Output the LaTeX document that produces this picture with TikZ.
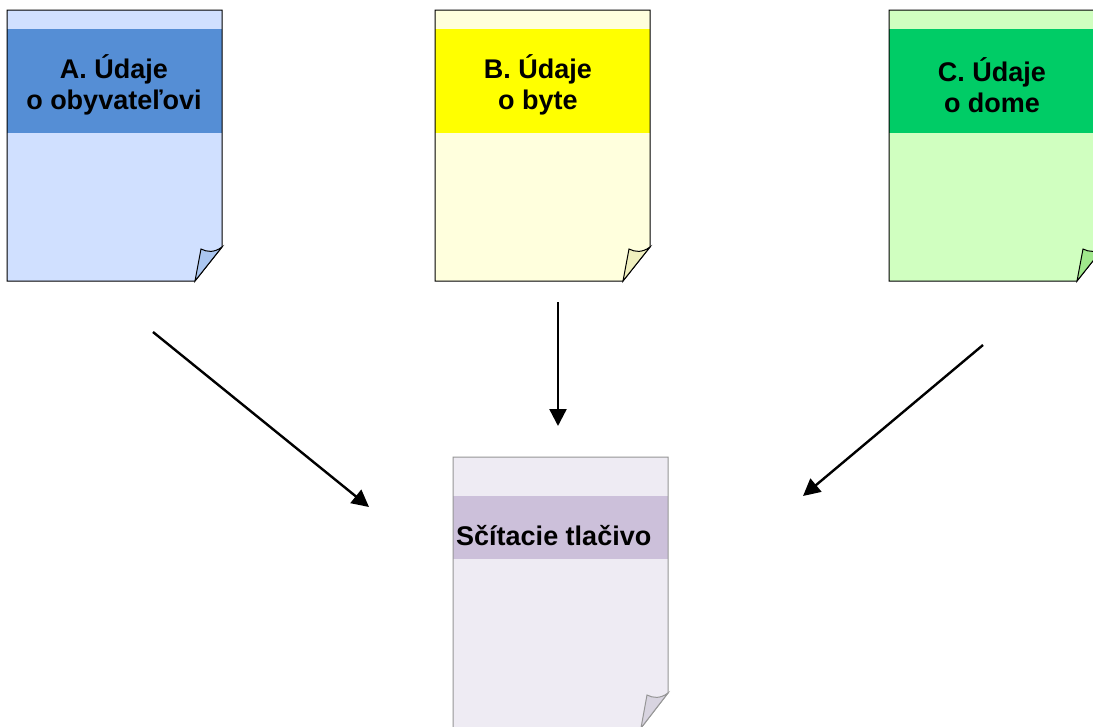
\documentclass[tikz,border=0pt]{standalone}
\usepackage{fontspec}
\setmainfont{Liberation Sans}
\usetikzlibrary{arrows.meta}
\definecolor{pageA}{RGB}{208,224,255}
\definecolor{bandA}{RGB}{85,142,213}
\definecolor{flapA}{RGB}{170,198,240}
\definecolor{pageB}{RGB}{255,255,221}
\definecolor{bandB}{RGB}{255,255,0}
\definecolor{flapB}{RGB}{240,240,190}
\definecolor{pageC}{RGB}{208,255,192}
\definecolor{bandC}{RGB}{0,204,102}
\definecolor{flapC}{RGB}{160,232,140}
\definecolor{pageD}{RGB}{238,235,243}
\definecolor{bandD}{RGB}{204,192,218}
\definecolor{flapD}{RGB}{216,212,224}
\definecolor{lineD}{RGB}{150,150,150}
\tikzset{
  sheet/.style={line width=1pt},
  flow/.style={line width=2.4pt,-{Triangle[length=17pt,width=17pt]}},
  title/.style={font=\bfseries\fontsize{27}{31}\selectfont,align=center,inner sep=0pt},
}
\begin{document}
\begin{tikzpicture}[x=1pt,y=-1pt]
\clip (0,0) rectangle (1093,726);
\fill[white] (0,0) rectangle (1093,726);
% ---- sheet A
\node[inner sep=0,minimum width=215pt,minimum height=271pt,anchor=north west] (sheetA) at (7,10) {};
\path[sheet,fill=pageA] (7,10) -- (222,10) -- (222,247) -- (195,281) -- (7,281) -- cycle;
\fill[bandA] (7,29) rectangle (222,133);
\draw[sheet] (7,10) -- (222,10) -- (222,247) -- (195,281) -- (7,281) -- cycle;
\path[sheet,fill=flapA,draw=black] (222,247) .. controls (214,253) and (207,252) .. (201,249) -- (195,281) -- cycle;
\node[title] (titleA) at (114,85) {A. Údaje\\o obyvateľovi};
% ---- sheet B
\node[inner sep=0,minimum width=215pt,minimum height=271pt,anchor=north west] (sheetB) at (435,10) {};
\path[sheet,fill=pageB] (435,10) -- (650,10) -- (650,247) -- (623,281) -- (435,281) -- cycle;
\fill[bandB] (435,29) rectangle (650,133);
\draw[sheet] (435,10) -- (650,10) -- (650,247) -- (623,281) -- (435,281) -- cycle;
\path[sheet,fill=flapB,draw=black] (650,247) .. controls (642,253) and (635,252) .. (629,249) -- (623,281) -- cycle;
\node[title] (titleB) at (538,85) {B. Údaje\\o byte};
% ---- sheet C
\node[inner sep=0,minimum width=215pt,minimum height=271pt,anchor=north west] (sheetC) at (889,10) {};
\path[sheet,fill=pageC] (889,10) -- (1104,10) -- (1104,247) -- (1077,281) -- (889,281) -- cycle;
\fill[bandC] (889,29) rectangle (1104,133);
\draw[sheet] (889,10) -- (1104,10) -- (1104,247) -- (1077,281) -- (889,281) -- cycle;
\path[sheet,fill=flapC,draw=black] (1104,247) .. controls (1096,253) and (1089,252) .. (1083,249) -- (1077,281) -- cycle;
\node[title] (titleC) at (992,85) {C. Údaje\\o dome};
% ---- sheet D
\node[inner sep=0,minimum width=215pt,minimum height=271pt,anchor=north west] (sheetD) at (453,457) {};
\path[sheet,fill=pageD] (453,457) -- (668,457) -- (668,693) -- (641,728) -- (453,728) -- cycle;
\fill[bandD] (453,496) rectangle (668,559);
\draw[sheet,draw=lineD] (453,457) -- (668,457) -- (668,693) -- (641,728) -- (453,728) -- cycle;
\path[sheet,fill=flapD,draw=lineD] (668,693) .. controls (660,699) and (653,698) .. (647,695) -- (641,728) -- cycle;
\node[title,anchor=base west] (titleD) at (456,545) {Sčítacie tlačivo};
% ---- connectors
\coordinate (a1) at (153,332); \coordinate (a2) at (369,507);
\coordinate (b1) at (558,302); \coordinate (b2) at (558,426);
\coordinate (c1) at (983,345); \coordinate (c2) at (803,496);
\draw[flow] (a1) -- (a2);
\draw[flow] (b1) -- (b2);
\draw[flow] (c1) -- (c2);
\end{tikzpicture}
\end{document}
